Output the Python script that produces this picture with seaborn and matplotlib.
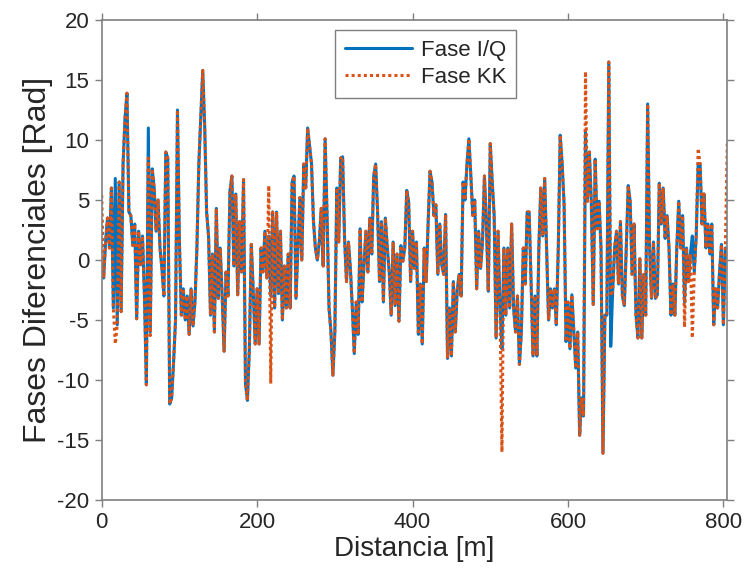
import numpy as np
import pandas as pd
import matplotlib
matplotlib.use("Agg")
import matplotlib.pyplot as plt
import seaborn as sns

# Sampling step of the read-off values along distance (m)
step = 2.5

# Fase I/Q values read every 2.5 m (one row = 10 m)
fase_iq = [
    -0.5, -1.5, 1.5, 3.5,
    1.0, 6.0, -4.0, 6.8,
    -5.4, 6.5, -4.3, 8.0,
    11.8, 13.9, 4.0, 3.7,
    1.2, 3.0, -4.9, 2.4,
    -0.4, 2.0, -3.0, -10.4,
    11.0, -6.0, 7.6, 6.0,
    2.4, 5.0, 1.0, -0.7,
    -3.0, 9.0, 8.5, -12.0,
    -11.5, -8.5, -5.0, 12.5,
    1.5, -4.6, -2.4, -5.0,
    -3.0, -6.2, -2.4, -5.5,
    -3.5, 1.0, 8.0, 12.0,
    15.8, 11.2, 4.0, 2.0,
    -4.6, 0.5, -6.0, 4.3,
    -3.2, 1.0, -3.0, -7.6,
    -1.0, -3.0, 5.7, 7.0,
    -0.5, 5.5, -2.9, 3.2,
    -1.0, 6.7, -10.3, -11.7,
    -7.4, 1.3, -2.6, -7.0,
    -2.4, -7.0, 1.0, -1.0,
    2.4, -1.5, 2.0, -3.0,
    4.0, -4.0, 4.0, -2.8,
    2.4, -5.0, -0.5, -4.0,
    0.5, -4.0, 6.5, 7.0,
    -3.2, 1.0, 5.2, 0.0,
    8.0, 6.0, 11.0, 9.5,
    8.0, 3.2, 1.0, 0.0,
    1.5, 4.3, -0.5, 10.1,
    3.7, -4.0, -6.0, -9.6,
    -6.0, 6.0, 1.5, 8.5,
    8.6, 1.8, -1.8, 1.5,
    -0.7, -4.0, -7.8, -3.5,
    -6.2, 2.6, -3.5, -0.4,
    2.4, -1.0, 3.5, 0.5,
    7.0, 8.0, 4.0, -1.8,
    3.2, -3.5, 3.5, 1.0,
    -1.0, -4.6, 1.5, -3.8,
    0.5, -5.1, 1.2, -0.1,
    1.0, 5.8, 4.8, -1.8,
    2.4, -0.7, 1.5, -6.2,
    -2.0, -7.0, 1.0, -1.8,
    3.0, 7.4, 6.5, 3.7,
    4.6, -1.2, 3.0, -0.4,
    -1.2, 3.8, -8.2, -4.0,
    -8.0, -1.8, -6.0, -2.5,
    -1.2, -3.0, 6.5, 5.0,
    8.0, 10.1, 7.0, 3.7,
    5.0, -2.4, 2.4, -0.7,
    1.5, 7.0, 3.0, -2.6,
    9.7, 6.5, 3.7, -6.5,
    2.4, -4.0, -7.4, 1.0,
    -4.6, 1.0, -4.0, 3.0,
    -4.0, -6.0, -3.0, -8.7,
    -6.0, 1.0, -2.0, 4.0,
    4.0, -1.8, -8.0, -3.0,
    -8.0, 1.0, 6.0, 2.0,
    6.8, 1.0, -5.0, -2.4,
    -4.0, -2.4, -5.4, 1.0,
    10.4, 8.0, 4.6, -6.8,
    -3.5, -7.4, -2.9, -6.0,
    -9.0, -6.0, -14.6, -11.5,
    -13.0, 10.7, 4.9, 9.0,
    4.9, -3.7, 8.4, 2.6,
    4.9, 1.0, -16.1, -4.6,
    -4.6, 16.5, -7.2, -2.6,
    1.0, 2.4, -2.0, 3.2,
    -3.0, -3.8, 1.0, 6.2,
    4.9, -1.2, 3.0, -4.6,
    -6.5, 0.1, -6.5, -1.2,
    -4.6, 13.0, 1.0, -3.2,
    1.5, -3.2, -2.9, 6.4,
    3.0, 6.0, 1.8, 3.7,
    1.0, -4.6, -2.0, -4.6,
    1.0, 4.9, 1.0, 3.7,
    -3.5, 1.0, -1.8, 0.5,
    2.0, -1.0, 2.0, 8.0,
    8.0, 3.0, 5.5, 1.0,
    3.0, 0.5, 3.0, -5.4,
    -2.4, -4.0, -1.0, 1.3,
    -5.4, 1.0, 1.0,
]

# Places where Fase KK departs from Fase I/Q (distance in m, value)
kk_diff_dist = [0.0, 17.5, 60.0, 62.5, 215.0, 217.5, 515.0, 622.5, 655.0, 750.0, 760.0, 767.5, 805.0]
kk_diff_val = [5.4, -7.0, 8.5, -6.3, 6.2, -10.3, -16.0, 15.7, -3.0, -5.6, -6.5, 9.3, 9.7]

x_ticks = [0, 200, 400, 600, 800]
y_ticks = [-20, -15, -10, -5, 0, 5, 10, 15, 20]

distancia = np.arange(len(fase_iq)) * step
fase_kk = list(fase_iq)
for d, v in zip(kk_diff_dist, kk_diff_val):
    fase_kk[int(round(d / step))] = v

df = pd.DataFrame({"Distancia": distancia, "IQ": fase_iq, "KK": fase_kk})

sns.set_style("white")
plt.rcParams["font.family"] = ["Liberation Sans", "DejaVu Sans"]
plt.rcParams["axes.unicode_minus"] = False

W, H = 746, 584
fig = plt.figure(figsize=(W / 100, H / 100), dpi=100)
ax = fig.add_axes([101.7 / W, 1 - 500 / H, (727.3 - 101.7) / W, 480 / H])

blue = "#0072BD"
orange = "#D95319"
sns.lineplot(data=df, x="Distancia", y="IQ", ax=ax, color=blue, linewidth=2.2,
             label="Fase I/Q", sort=False, estimator=None)
sns.lineplot(data=df, x="Distancia", y="KK", ax=ax, color=orange, linewidth=2.2,
             label="Fase KK", sort=False, estimator=None, dashes=False)
ax.lines[1].set_linestyle((0, (1, 1)))

ax.set_xlim(0, 805)
ax.set_ylim(-20, 20)
ax.set_xticks(x_ticks)
ax.set_yticks(y_ticks)
ax.set_xlabel("Distancia [m]", fontsize=20, color="#262626", labelpad=2)
ax.set_ylabel("Fases Diferenciales [Rad]", fontsize=23, color="#262626", labelpad=3)
ax.tick_params(axis="both", direction="out", length=5, width=1, color="#7f7f7f",
               labelsize=16, labelcolor="#262626", bottom=True, left=True,
               top=True, right=True, pad=4)
for s in ax.spines.values():
    s.set_color("#7f7f7f")
    s.set_linewidth(1.2)

leg = ax.legend(loc="upper left", bbox_to_anchor=((335 - 101.7) / 625.6, (500 - 30) / 480),
                borderaxespad=0, fontsize=16, frameon=True, fancybox=False,
                handlelength=3.0, handletextpad=0.4, borderpad=0.45, labelspacing=0.25)
leg.get_frame().set_edgecolor("#7f7f7f")
leg.get_frame().set_linewidth(1.0)
leg.get_frame().set_alpha(1)
for t in leg.get_texts():
    t.set_color("#262626")
leg.get_lines()[1].set_linestyle((0, (1, 1)))

fig.savefig("out.png", dpi=100)
